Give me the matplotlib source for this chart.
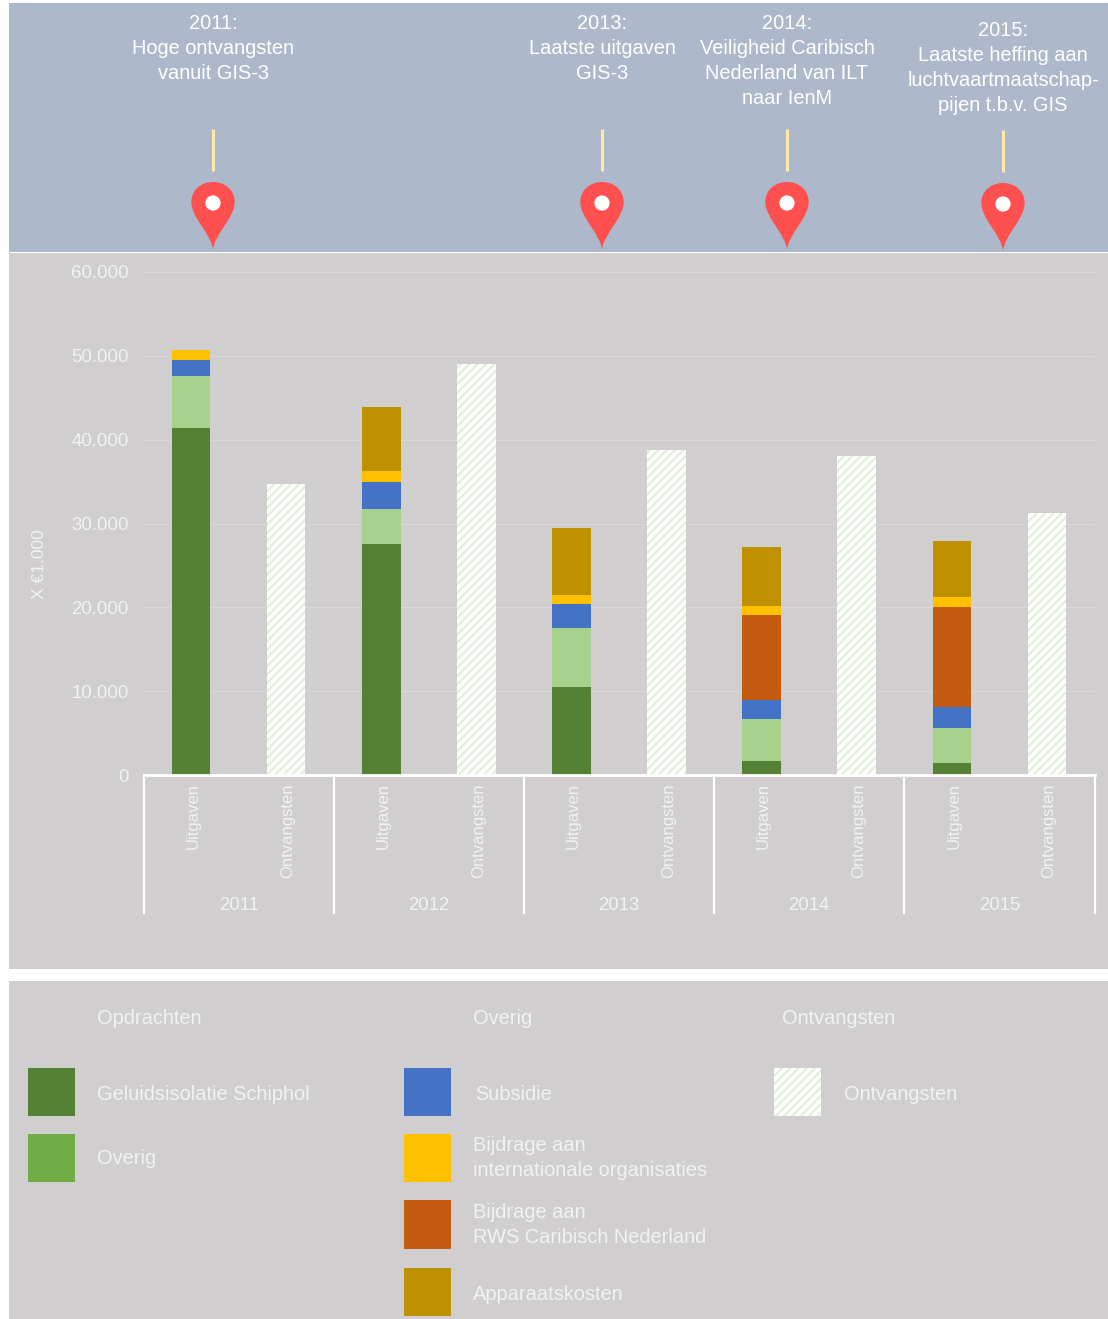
import matplotlib
matplotlib.use("Agg")
import matplotlib.pyplot as plt
from matplotlib.patches import Rectangle, PathPatch, Circle
from matplotlib.path import Path
from matplotlib.transforms import blended_transform_factory, ScaledTranslation

plt.rcParams['font.family'] = ['Liberation Sans', 'DejaVu Sans']
plt.rcParams['hatch.linewidth'] = 1.6

years = ['2011', '2012', '2013', '2014', '2015']
geluid = [41400, 27500, 10500, 1650, 1400]
overig = [6200, 4200, 7000, 5050, 4200]
subsidie = [1900, 3300, 2900, 2250, 2500]
rws = [0, 0, 0, 10150, 11900]
bijdrage = [1200, 1300, 1100, 1100, 1200]
apparaat = [0, 7600, 8000, 7000, 6700]
ontvangsten = [34700, 49000, 38800, 38100, 31300]

stack = [(geluid, '#548235'), (overig, '#A9D18E'), (subsidie, '#4472C4'),
         (rws, '#C55A11'), (bijdrage, '#FFC000'), (apparaat, '#BF9000')]
yticks = [0, 10000, 20000, 30000, 40000, 50000, 60000]
ytick_labels = ['0', '10.000', '20.000', '30.000', '40.000', '50.000', '60.000']
bar_labels = ['Uitgaven', 'Ontvangsten']

events = [(213, 0, '2011:\nHoge ontvangsten\nvanuit GIS-3', 22),
          (602, 0, '2013:\nLaatste uitgaven\nGIS-3', 22),
          (787, 0, '2014:\nVeiligheid Caribisch\nNederland van ILT\nnaar IenM', 22),
          (1003, 1, '2015:\nLaatste heffing aan\nluchtvaartmaatschap-\npijen t.b.v. GIS', 29)]

W, H = 1108, 1319
TXT = '#F2F2F2'
HATCH = '#E2F0D9'
fig = plt.figure(figsize=(W / 100, H / 100), dpi=100, facecolor='white')

# background layer in pixel coordinates
bg = fig.add_axes([0, 0, 1, 1], zorder=0)
bg.set_xlim(0, W)
bg.set_ylim(H, 0)
bg.axis('off')
bg.add_patch(Rectangle((9, 3), W - 9, 249, fc='#ADB9CA', ec='none'))
bg.add_patch(Rectangle((9, 253), W - 9, 716, fc='#D0CECE', ec='none'))
bg.add_patch(Rectangle((9, 981), W - 9, 338, fc='#D0CECE', ec='none'))

# timeline
for x, dy, label, ty in events:
    bg.text(x, ty - 8, label, ha='center', va='top', color='white',
            fontsize=14.4, linespacing=1.4)
    bg.plot([x, x], [129 + dy, 171 + dy], color='#FFE9A8', lw=2.2, solid_capstyle='butt')
    cy = 203 + dy
    verts = [(x, cy + 47),
             (x - 1.5, cy + 31), (x - 21.7, cy + 15), (x - 21.7, cy - 1),
             (x - 21.7, cy - 13), (x - 12, cy - 21), (x, cy - 21),
             (x + 12, cy - 21), (x + 21.7, cy - 13), (x + 21.7, cy - 1),
             (x + 21.7, cy + 15), (x + 1.5, cy + 31), (x, cy + 47)]
    codes = [Path.MOVETO] + [Path.CURVE4] * 12
    bg.add_patch(PathPatch(Path(verts, codes), fc='#FF5050', ec='none'))
    bg.add_patch(Circle((x, cy), 7.6, fc='white', ec='none'))

# chart
L, R, T, B = 143.5, 1094.5, 272, 775
ax = fig.add_axes([L / W, 1 - B / H, (R - L) / W, (B - T) / H], zorder=1)
ax.patch.set_alpha(0)
ax.set_xlim(-0.5, 9.5)
ax.set_ylim(0, 60000)
for s in ax.spines.values():
    s.set_visible(False)
ax.set_yticks(yticks)
ax.set_yticklabels(ytick_labels, color=TXT, fontsize=13.4)
ax.yaxis.grid(True, color='#D9D7D7', lw=0.8)
ax.set_axisbelow(True)
ax.tick_params(axis='y', length=0, pad=10.5)
ax.set_ylabel('X €1.000', color=TXT, fontsize=12.5)
ax.yaxis.set_label_coords((47 - L) / (R - L), 0.42)

xpos = list(range(10))
ax.set_xticks(xpos)
ax.set_xticklabels(bar_labels * 5, rotation=90, color=TXT, fontsize=12, va='top', ha='center')
ax.tick_params(axis='x', length=0, pad=6)
shift = ScaledTranslation(2 / 100, 0, fig.dpi_scale_trans)
for lab in ax.get_xticklabels():
    lab.set_transform(lab.get_transform() + shift)

bw = 0.405
for i in range(5):
    bottom = 0
    for vals, col in stack:
        if vals[i]:
            ax.bar(2 * i, vals[i], bw, bottom=bottom, color=col, lw=0)
        bottom += vals[i]
    ax.bar(2 * i + 1, ontvangsten[i], bw, facecolor='white', edgecolor=HATCH, hatch='////', lw=0)

# multi-level category axis
tr = blended_transform_factory(ax.transData, ax.transAxes)
ax.plot([-0.5, 9.5], [0, 0], transform=tr, color='white', lw=2, clip_on=False, zorder=5,
        solid_capstyle='projecting')
lo = -(913 - B) / (B - T)
for i in range(6):
    ax.plot([2 * i - 0.5] * 2, [0, lo], transform=tr, color='white', lw=1.6, clip_on=False, zorder=5)
for i, y in enumerate(years):
    ax.text(2 * i + 0.5, -(905 - B) / (B - T), y, transform=tr, ha='center', va='center',
            color=TXT, fontsize=13.4)

# legend panel
def swatch(x, y, h, col, hatched=False):
    if hatched:
        bg.add_patch(Rectangle((x, y), 47, h, facecolor='white', edgecolor=HATCH, hatch='////', lw=0))
    else:
        bg.add_patch(Rectangle((x, y), 47, h, fc=col, ec='none'))

for x, y, t in [(97, 1018, 'Opdrachten'), (473, 1018, 'Overig'), (782, 1018, 'Ontvangsten'),
                (97, 1094, 'Geluidsisolatie Schiphol'), (97, 1158, 'Overig'),
                (475, 1094, 'Subsidie'),
                (473, 1158, 'Bijdrage aan\ninternationale organisaties'),
                (473, 1225, 'Bijdrage aan\nRWS Caribisch Nederland'),
                (473, 1294, 'Apparaatskosten'), (844, 1094, 'Ontvangsten')]:
    bg.text(x, y, t, ha='left', va='center', color=TXT, fontsize=14.4, linespacing=1.4)

swatch(28, 1068, 48, '#548235')
swatch(28, 1134, 48, '#70AD47')
swatch(404, 1068, 48, '#4472C4')
swatch(404, 1134, 48, '#FFC000')
swatch(404, 1200, 49, '#C55A11')
swatch(404, 1268, 48, '#BF9000')
swatch(774, 1068, 48, None, True)

fig.savefig('out.png', dpi=100, facecolor='white')
